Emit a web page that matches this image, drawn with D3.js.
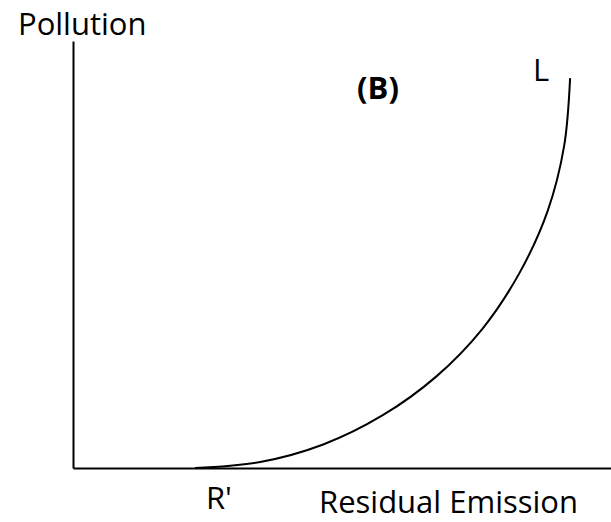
<!DOCTYPE html>
<html lang="en">
    <head>
        <meta charset="utf-8">
        <title>Pollution vs Residual Emission</title>
        <script src="https://cdn.jsdelivr.net/npm/d3@7/dist/d3.min.js" charset="utf-8"></script>
        <style type="text/css">
            body { margin: 0; background: #fff; }
            text { font-family: "Open Sans", "Noto Sans", sans-serif; fill: #000; }
        </style>
    </head>
    <body>
        <div id="chart"></div>
        <script>
            // curve L (arbitrary units 0-100)
            var curveX = [22.7, 34.8, 46.5, 57.5, 67.5, 76.1, 83.0, 88.2, 91.3, 92.4];
            var curveY = [0, 1.4, 5.5, 12.3, 21.4, 32.6, 45.7, 60.1, 75.5, 91.3];

            // annotations: text, x, y (data units), bold
            var labelText = ["(B)", "L", "R'"];
            var labelX = [52.8, 85.5, 24.7];
            var labelY = [86.4, 90.6, -9.6];
            var labelBold = [true, false, false];

            var xTitle = "Residual Emission";
            var yTitle = "Pollution";

            var width = 611, height = 522;
            var fontSize = "31px";
            var svg = d3.select("#chart").append("svg")
                .attr("width", width)
                .attr("height", height);

            var x = d3.scaleLinear().domain([0, 100]).range([73, 611]);
            var y = d3.scaleLinear().domain([0, 100]).range([468, 41]);

            // Ejes sin ticks
            svg.append("g")
                .attr("transform", "translate(0," + y(0) + ")")
                .call(d3.axisBottom(x).tickValues([]).tickSizeOuter(0))
                .select(".domain").attr("stroke-width", 2);

            svg.append("g")
                .attr("transform", "translate(" + x(0) + ",0)")
                .call(d3.axisLeft(y).tickValues([]).tickSizeOuter(0))
                .select(".domain").attr("stroke-width", 2);

            var pts = curveX.map(function(d, i) { return [d, curveY[i]]; });

            var line = d3.line()
                .x(function(d) { return x(d[0]); })
                .y(function(d) { return y(d[1]); })
                .curve(d3.curveCatmullRom.alpha(0.5));

            svg.append("path")
                .datum(pts)
                .attr("fill", "none")
                .attr("stroke", "#000")
                .attr("stroke-width", 2)
                .attr("d", line);

            svg.selectAll(".lbl")
                .data(labelText)
                .enter()
                .append("text")
                .attr("class", "lbl")
                .attr("x", function(d, i) { return x(labelX[i]); })
                .attr("y", function(d, i) { return y(labelY[i]); })
                .style("font-size", fontSize)
                .style("font-weight", function(d, i) { return labelBold[i] ? "bold" : "normal"; })
                .text(function(d) { return d; });

            svg.append("text")
                .attr("x", 319)
                .attr("y", 513)
                .style("font-size", fontSize)
                .text(xTitle);

            svg.append("text")
                .attr("x", 18)
                .attr("y", 35)
                .style("font-size", fontSize)
                .text(yTitle);
        </script>
    </body>
</html>
